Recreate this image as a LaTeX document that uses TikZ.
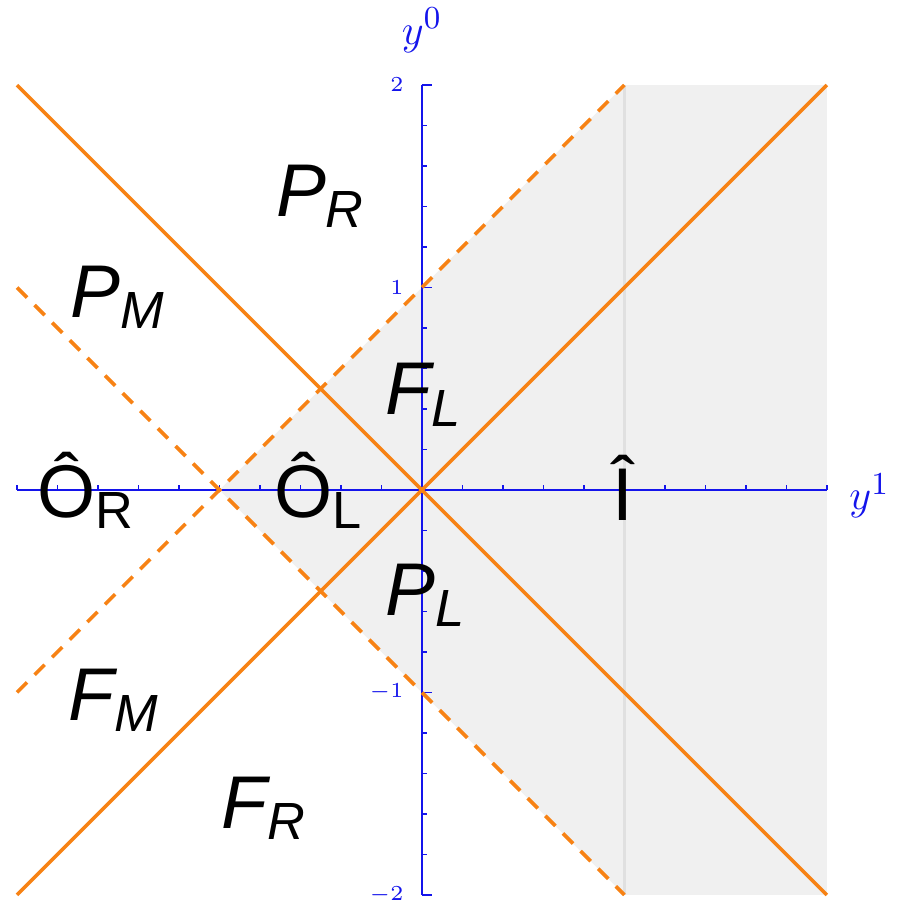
\documentclass[tikz,border=0pt]{standalone}
\usepackage{fontspec}
\setmainfont{Liberation Sans}
\usetikzlibrary{arrows}

\definecolor{lineorange}{RGB}{247,130,20}
\definecolor{axisblue}{RGB}{20,20,235}

\begin{document}
\begin{tikzpicture}[x=2cm,y=2cm,
  cone/.style={lineorange,line width=1pt},
  lbl/.style={font=\fontsize{21}{24}\selectfont},
  tick/.style={axisblue,line width=0.4pt}]

\useasboundingbox (-2.084,-2.109) rectangle (2.361,2.42);

% shaded wedge
\fill[black!6] (-1,0) -- (1,2) -- (2,2) -- (2,-2) -- (1,-2) -- cycle;
\draw[black!12,line width=0.6pt] (1,-2) -- (1,2);

\coordinate (LL) at (-2,-2); \coordinate (UR) at (2,2);
\coordinate (UL) at (-2,2);  \coordinate (LR) at (2,-2);
\coordinate (A1) at (-2,-1); \coordinate (A2) at (1,2);
\coordinate (B1) at (-2,1);  \coordinate (B2) at (1,-2);

% axes
\draw[tick] (-2,0) -- (2,0);
\draw[tick] (0,-2) -- (0,2);
\foreach \t in {-2,-1.8,...,2.01}{
  \draw[tick] (\t,0) -- (\t,0.025);
  \draw[tick] (0,\t) -- (0.025,\t);}
\foreach \t in {-2,-1,1,2}{
  \draw[tick] (0,\t) -- (0.05,\t);
  \node[axisblue,font=\fontsize{6}{7}\selectfont,anchor=east] at (-0.03,\t) {$\t$};}
\node[axisblue,font=\fontsize{13}{15}\selectfont] (y0) at (0,2.27) {$y^0$};
\node[axisblue,font=\fontsize{13}{15}\selectfont] (y1) at (2.21,-0.03) {$y^1$};

% light cones
\path[cone] (LL) edge (UR) (UL) edge (LR);
\path[cone,dashed,dash pattern=on 4pt off 3pt] (A1) edge (A2) (B1) edge (B2);

% regions
\node[lbl] (PR) at (-0.5,1.45) {\itshape P\textsubscript{R}};
\node[lbl] (PM) at (-1.5,0.95) {\itshape P\textsubscript{M}};
\node[lbl] (FL) at (0.01,0.47) {\itshape F\textsubscript{L}};
\node[lbl] (PL) at (0.02,-0.52) {\itshape P\textsubscript{L}};
\node[lbl] (FM) at (-1.52,-1.04) {\itshape F\textsubscript{M}};
\node[lbl] (FR) at (-0.78,-1.57) {\itshape F\textsubscript{R}};
\node[lbl] (OR) at (-1.66,0) {\^O\textsubscript{R}};
\node[lbl] (OL) at (-0.51,0) {\^O\textsubscript{L}};
\node[lbl] (I) at (0.99,0.01) {\^I};

\end{tikzpicture}
\end{document}
